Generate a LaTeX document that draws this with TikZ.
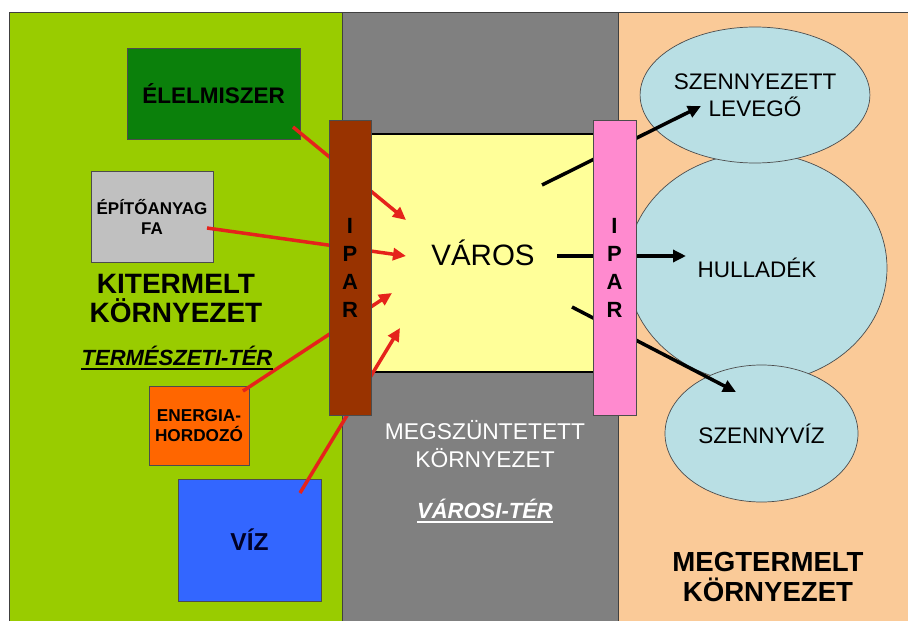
\documentclass[tikz,border=0pt]{standalone}
\usepackage{fontspec}
\setmainfont{Liberation Sans}
\usetikzlibrary{arrows.meta,shapes.geometric}

\definecolor{fieldgreen}{HTML}{99CC00}
\definecolor{citygray}{HTML}{808080}
\definecolor{madepeach}{HTML}{FACA98}
\definecolor{foodgreen}{HTML}{0B800B}
\definecolor{woodgray}{HTML}{C0C0C0}
\definecolor{energyorange}{HTML}{FF6600}
\definecolor{waterblue}{HTML}{3366FF}
\definecolor{cityyellow}{HTML}{FFFF99}
\definecolor{iparbrown}{HTML}{993300}
\definecolor{iparpink}{HTML}{FF8ACF}
\definecolor{blobblue}{HTML}{B9DFE4}
\definecolor{arrowred}{HTML}{E5231B}

\tikzset{
    box/.style={draw=black!70, line width=0.8pt, inner sep=0pt, font=\bfseries, align=center},
    blob/.style={ellipse, draw=black!70, fill=blobblue, line width=0.7pt, inner sep=0pt, align=center,
        font=\fontsize{22.5}{27}\selectfont},
    iparbar/.style={draw=black!70, line width=0.8pt, minimum width=42pt, minimum height=295pt,
        inner sep=0pt, align=center, font=\fontsize{22}{28}\selectfont\bfseries},
    zonetitle/.style={anchor=base, inner sep=0pt, font=\fontsize{22}{22}\selectfont\bfseries\itshape},
    underbar/.style={line width=2pt},
    redarrow/.style={arrowred, line width=3.5pt, -{Triangle[length=13pt,width=12pt]}},
    blackarrow/.style={black, line width=3.5pt, -{Triangle[length=13pt,width=12pt]}}
}

\begin{document}
\begin{tikzpicture}[x=1pt, y=-1pt]
        \useasboundingbox (0,0) rectangle (908,621);
        % the three zones
        \filldraw[fill=fieldgreen, draw=black!75, line width=0.8pt] (9,12) rectangle (342,630);
        \filldraw[fill=citygray, draw=black!75, line width=0.8pt] (342,12) rectangle (618,630);
        \filldraw[fill=madepeach, draw=black!75, line width=0.8pt] (618,12) rectangle (915,630);

        \node[fill=cityyellow, draw=black, line width=2.5pt, minimum width=240pt, minimum height=238pt,
            font=\fontsize{29.5}{29}\selectfont] (varos) at (483,253) {VÁROS};

        % sources
        \node[box, fill=foodgreen, minimum width=173pt, minimum height=91pt,
            font=\fontsize{22.5}{24}\selectfont\bfseries] (food) at (213.5,93.5) {ÉLELMISZER};
        \node[box, fill=woodgray, minimum width=122pt, minimum height=91pt,
            font=\fontsize{17}{20}\selectfont\bfseries] (wood) at (152,216.5) {ÉPÍTŐANYAG\\FA};
        \node[box, fill=energyorange, minimum width=100pt, minimum height=79pt,
            font=\fontsize{17.2}{20}\selectfont\bfseries] (energy) at (199,425.5) {ENERGIA-\\HORDOZÓ};
        \node[box, fill=waterblue, minimum width=143pt, minimum height=122pt,
            font=\fontsize{24.5}{24}\selectfont\bfseries, text=black!85!blue] (water) at (249.5,540) {VÍZ};

        % outputs
        \node[blob, minimum width=260pt, minimum height=230pt] (waste) at (757,268) {HULLADÉK};
        \node[blob, minimum width=194pt, minimum height=136pt] (air) at (755,95) {SZENNYEZETT\\LEVEGŐ};
        \node[blob, minimum width=193pt, minimum height=137pt] (sewage) at (761.5,433.5) {SZENNYVÍZ};

        \coordinate (foodTail) at (293,127);   \coordinate (foodTip) at (406,220);
        \coordinate (woodTail) at (207,228);   \coordinate (woodTip) at (406,256);
        \coordinate (energyTail) at (243,391); \coordinate (energyTip) at (392,293);
        \coordinate (waterTail) at (300,493);  \coordinate (waterTip) at (400,328);
        \draw[redarrow] (foodTail) -- (foodTip);
        \draw[redarrow] (woodTail) -- (woodTip);
        \draw[redarrow] (energyTail) -- (energyTip);
        \draw[redarrow] (waterTail) -- (waterTip);

        \coordinate (airTail) at (542,185);    \coordinate (airTip) at (701,106);
        \coordinate (wasteTail) at (557,256);  \coordinate (wasteTip) at (686,256);
        \coordinate (sewageTail) at (572,307); \coordinate (sewageTip) at (736,392);
        \draw[blackarrow] (airTail) -- (airTip);
        \draw[blackarrow] (wasteTail) -- (wasteTip);
        \draw[blackarrow] (sewageTail) -- (sewageTip);

        % industry bars
        \node[iparbar, fill=iparbrown] (iparIn) at (350,267.5) {I\\P\\A\\R};
        \node[iparbar, fill=iparpink, minimum width=43pt] (iparOut) at (614.5,267.5) {I\\P\\A\\R};

        % zone labels
        \node[align=center, font=\fontsize{28}{29}\selectfont\bfseries] (kitermelt) at (176,299)
            {KITERMELT\\KÖRNYEZET};
        \node[zonetitle] (termTer) at (177,365) {TERMÉSZETI-TÉR};
        \draw[underbar] ([yshift=-3.5pt]termTer.base west) -- ([yshift=-3.5pt]termTer.base east);
        \node[align=center, text=white, font=\fontsize{22.8}{28}\selectfont] (megsz) at (485,444)
            {MEGSZÜNTETETT\\KÖRNYEZET};
        \node[zonetitle, text=white] (varosTer) at (485,518) {VÁROSI-TÉR};
        \draw[underbar, white] ([yshift=-3.5pt]varosTer.base west) -- ([yshift=-3.5pt]varosTer.base east);
        \node[align=center, font=\fontsize{27.6}{30}\selectfont\bfseries] (megtermelt) at (768,577)
            {MEGTERMELT\\KÖRNYEZET};
\end{tikzpicture}
\end{document}
